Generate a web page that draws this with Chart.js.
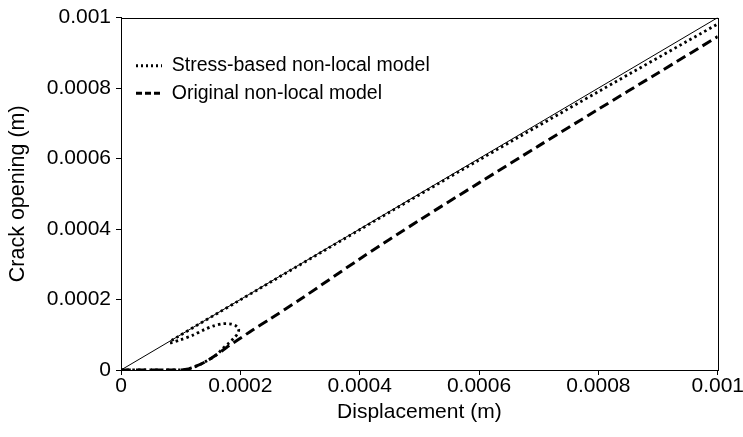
<!DOCTYPE html>
<html>
<head>
<meta charset="utf-8">
<script src="https://cdn.jsdelivr.net/npm/chart.js@4/dist/chart.umd.min.js"></script>
<style>
html,body{margin:0;padding:0;background:#fff;}
canvas{display:block;}
</style>
</head>
<body>
<canvas id="c" width="743" height="437"></canvas>
<script>
// ---- data ----
const xTickLabels = ['0', '0.0002', '0.0004', '0.0006', '0.0008', '0.001'];
const yTickLabels = ['0', '0.0002', '0.0004', '0.0006', '0.0008', '0.001'];

const refX = [0, 0.001];
const refY = [0, 0.001];

const stressX = [0, 0.0001, 0.00012, 0.00014, 0.00016, 0.00017, 0.00018, 0.000189, 0.000196, 0.000197, 0.000191, 0.000182, 0.00017, 0.000155, 0.00014, 0.00012, 0.0001, 0.000082, 0.000086, 0.0002, 0.0004, 0.0006, 0.0008, 0.001];
const stressY = [0, 0, 0.000007, 0.000022, 0.000043, 0.00006, 0.000075, 0.00009, 0.000105, 0.000117, 0.000127, 0.000131, 0.000131, 0.000125, 0.000115, 0.0000985, 0.000086, 0.000077, 0.000085, 0.000199, 0.000398, 0.000596, 0.00079, 0.000982];

const origX = [0, 0.0001, 0.00011, 0.00012, 0.00014, 0.00016, 0.00018, 0.0002, 0.00022, 0.00025, 0.0003, 0.0004, 0.0005, 0.0006, 0.0007, 0.0008, 0.0009, 0.001];
const origY = [0, 0, 0.000002, 0.000007, 0.000022, 0.000043, 0.000068, 0.00009, 0.000113, 0.000145, 0.0002, 0.000315, 0.000425, 0.000531, 0.000636, 0.00074, 0.000843, 0.000946];

const seriesNames = ['', 'Stress-based non-local model', 'Original non-local model'];

const toPts = (xs, ys) => xs.map((x, i) => ({x: x, y: ys[i]}));

const FONT = 'Liberation Sans, Arial, Helvetica, sans-serif';
const legendDash = [null, [2, 3], [6, 3]];

const framePlugin = {
  id: 'frame',
  afterDatasetsDraw(chart) {
    const a = chart.chartArea, ctx = chart.ctx;
    ctx.save();
    ctx.strokeStyle = '#000';
    ctx.lineWidth = 1;
    ctx.strokeRect(Math.round(a.left) + 0.5, Math.round(a.top) + 0.5, Math.round(a.right - a.left), Math.round(a.bottom - a.top));
    ctx.restore();
  }
};
const legendShift = {
  id: 'legendShift',
  afterLayout(chart) {
    if (chart.legend) { chart.legend.left += 7; }
  }
};

new Chart(document.getElementById('c'), {
  type: 'scatter',
  data: {
    datasets: [
      {label: seriesNames[0], data: toPts(refX, refY), showLine: true, borderColor: '#000', borderWidth: 1, pointRadius: 0, fill: false},
      {label: seriesNames[1], data: toPts(stressX, stressY), showLine: true, borderColor: '#000', borderWidth: 2.8, borderDash: [2.5, 3.2], pointRadius: 0, fill: false, tension: 0.3},
      {label: seriesNames[2], data: toPts(origX, origY), showLine: true, borderColor: '#000', borderWidth: 3, borderDash: [10, 5], pointRadius: 0, fill: false, tension: 0.3}
    ]
  },
  options: {
    responsive: false,
    animation: false,
    devicePixelRatio: 1,
    layout: {padding: {top: 13, right: 25, left: 0, bottom: 0}},
    plugins: {
      tooltip: {enabled: false},
      legend: {
        position: 'chartArea',
        align: 'start',
        title: {display: true, text: '', font: {size: 12, lineHeight: 1}, padding: {top: 36, bottom: 0}},
        labels: {
          generateLabels: (chart) => {
            const items = Chart.defaults.plugins.legend.labels.generateLabels(chart);
            items.forEach((it) => {
              const ds = chart.data.datasets[it.datasetIndex];
              it.lineDash = legendDash[it.datasetIndex] || [];
              it.lineWidth = ds.borderWidth;
              it.strokeStyle = '#000';
              it.fillStyle = '#000';
            });
            return items;
          },
          filter: (item) => item.datasetIndex > 0,
          usePointStyle: true,
          pointStyle: 'line',
          pointStyleWidth: 26,
          padding: 8,
          color: '#000',
          font: {family: FONT, size: 19.5}
        }
      }
    },
    scales: {
      x: {
        type: 'linear',
        min: 0, max: 0.001,
        afterFit: (s) => { s.height = 67; },
        afterBuildTicks: (s) => { s.ticks = xTickLabels.map((t, i) => ({value: i * 0.0002})); },
        ticks: {
          color: '#000', padding: -1, maxRotation: 0,
          font: {family: FONT, size: 21},
          callback: (v, i) => xTickLabels[i]
        },
        grid: {display: true, drawOnChartArea: false, drawTicks: true, tickLength: 5, tickColor: '#000'},
        border: {display: true, color: '#000', width: 1},
        title: {display: true, text: 'Displacement (m)', color: '#000', font: {family: FONT, size: 21}, padding: {top: 2, bottom: 12}}
      },
      y: {
        type: 'linear',
        min: 0, max: 0.001,
        afterFit: (s) => { s.width = 121; },
        afterBuildTicks: (s) => { s.ticks = yTickLabels.map((t, i) => ({value: i * 0.0002})); },
        ticks: {
          color: '#000', padding: 5,
          font: {family: FONT, size: 21},
          callback: (v, i) => yTickLabels[i]
        },
        grid: {display: true, drawOnChartArea: false, drawTicks: true, tickLength: 5, tickColor: '#000'},
        border: {display: true, color: '#000', width: 1},
        title: {display: true, text: 'Crack opening (m)', color: '#000', font: {family: FONT, size: 21.5}, padding: {top: 5, bottom: 4}}
      }
    }
  },
  plugins: [framePlugin, legendShift]
});
</script>
</body>
</html>
